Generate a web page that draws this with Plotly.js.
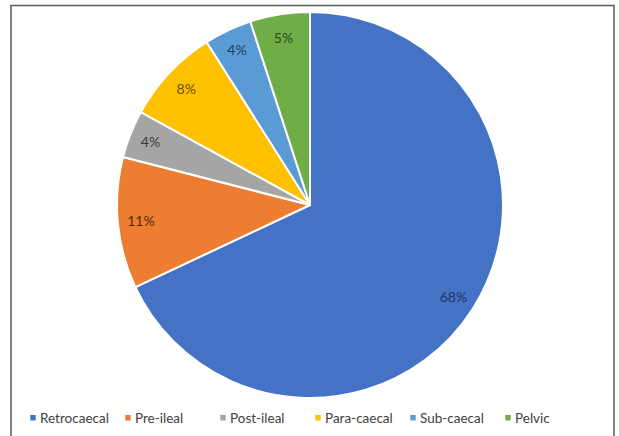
<!DOCTYPE html>
<html>
<head>
<meta charset="utf-8">
<script src="https://cdn.plot.ly/plotly-3.0.1.min.js"></script>
<style>html,body{margin:0;padding:0;background:#fff;}#chart{width:619px;height:436px;}</style>
</head>
<body>
<div id="chart"></div>
<script>
const categories = ["Retrocaecal", "Pre-ileal", "Post-ileal", "Para-caecal", "Sub-caecal", "Pelvic"];
const percentValues = [68, 11, 4, 8, 4, 5];
const sliceColors = ["#4472C4", "#ED7D31", "#A5A5A5", "#FFC000", "#5B9BD5", "#70AD47"];
const labelColors = ["#1F3763", "#5A2A08", "#3A3A3A", "#664D00", "#1E3E5E", "#2C4A1C"];

const W = 619, H = 436;
const cx = 310, cy = 205, R = 193;
const FONT = "Lato, 'Open Sans', sans-serif";
const domain = {
  x: [(cx - R) / W, (cx + R) / W],
  y: [1 - (cy + R) / H, 1 - (cy - R) / H]
};

const slices = {
  type: "pie",
  labels: categories,
  values: percentValues,
  sort: false,
  direction: "clockwise",
  rotation: 0,
  marker: { colors: sliceColors, line: { color: "#ffffff", width: 2 } },
  textinfo: "none",
  hoverinfo: "label+percent",
  domain: domain
};

// transparent ring on top that only carries the percentage labels near the rim
const labelRing = {
  type: "pie",
  labels: categories,
  values: percentValues,
  sort: false,
  direction: "clockwise",
  rotation: 0,
  hole: 0.76,
  showlegend: false,
  marker: { colors: categories.map(() => "rgba(0,0,0,0)"), line: { width: 0 } },
  texttemplate: "%{value}%",
  textposition: "inside",
  insidetextorientation: "horizontal",
  textfont: { family: FONT, size: 14, color: labelColors },
  hoverinfo: "skip",
  domain: domain
};

const layout = {
  width: W, height: H,
  margin: { l: 0, r: 0, t: 0, b: 0 },
  paper_bgcolor: "#ffffff",
  showlegend: true,
  legend: {
    orientation: "h",
    x: 0, xanchor: "left",
    y: 1 - 418 / H, yanchor: "middle",
    entrywidth: 50, entrywidthmode: "pixels",
    bgcolor: "rgba(0,0,0,0)",
    font: { family: FONT, size: 13.5, color: "#404040" },
    itemclick: false, itemdoubleclick: false,
    traceorder: "normal"
  },
  shapes: [{
    type: "rect", xref: "paper", yref: "paper",
    x0: 11 / W, x1: 614 / W, y0: -0.05, y1: 1 - 5.5 / H,
    line: { color: "#595959", width: 1.5 }, fillcolor: "rgba(0,0,0,0)", layer: "below"
  }]
};

Plotly.newPlot("chart", [slices, labelRing], layout, { displayModeBar: false, staticPlot: true }).then(gd => {
  // smaller legend swatches sitting close to their text, as in the reference
  gd.querySelectorAll(".legend .legendpoints path").forEach(p => {
    p.setAttribute("transform", "translate(33,0) scale(0.45)");
    p.style.strokeWidth = "0";
  });
});
</script>
</body>
</html>
